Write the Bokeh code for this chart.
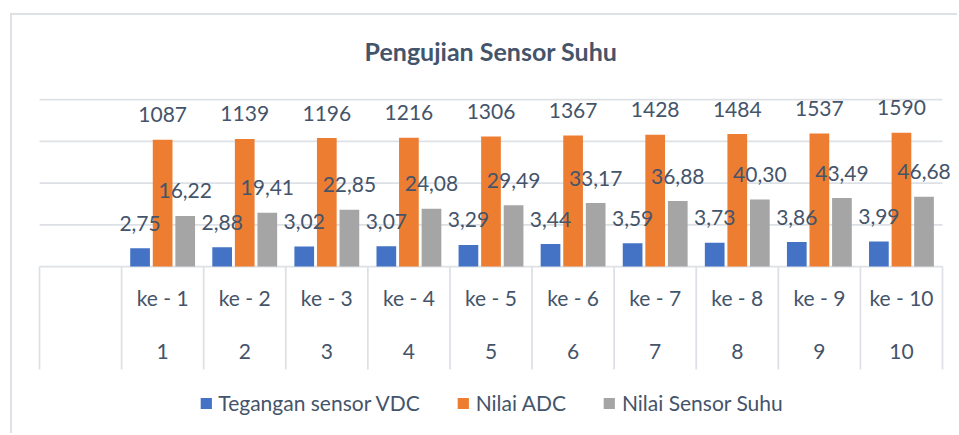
import numpy as np
from bokeh.plotting import figure
from bokeh.models import ColumnDataSource, FactorRange, Range1d
from bokeh.transform import dodge
from bokeh.core.properties import value
from bokeh.embed import file_html
from bokeh.resources import INLINE

# ---------------- data ----------------
title_text = "Pengujian Sensor Suhu"
trials = ["ke - 1", "ke - 2", "ke - 3", "ke - 4", "ke - 5",
          "ke - 6", "ke - 7", "ke - 8", "ke - 9", "ke - 10"]
numbers = ["1", "2", "3", "4", "5", "6", "7", "8", "9", "10"]
vdc = [2.75, 2.88, 3.02, 3.07, 3.29, 3.44, 3.59, 3.73, 3.86, 3.99]
adc = [1087, 1139, 1196, 1216, 1306, 1367, 1428, 1484, 1537, 1590]
suhu = [16.22, 19.41, 22.85, 24.08, 29.49, 33.17, 36.88, 40.30, 43.49, 46.68]
series_names = ["Tegangan sensor VDC", "Nilai ADC", "Nilai Sensor Suhu"]
grid_values = [1, 10, 100, 1000, 10000]

# ---------------- styling ----------------
colors = ["#4472C4", "#ED7D31", "#A5A5A5"]
text_color = "#44546A"
line_color = "#DDE1E6"
font = "Lato"
fs = "21px"

W, H = 947, 420
ppd = 41.75            # pixels per decade on the log axis
top_pad = 84           # pixels between canvas top and the 10^4 gridline
y_hi = 4 + top_pad / ppd
y_lo = y_hi - H / ppd

def y_at(px_from_top):
    return 10 ** (y_hi - px_from_top / ppd)

blank = " "
factors = [blank] + trials
col_px = 903 / len(factors)       # width of one category column in pixels
side_pad = 17                     # extra room either side of the category table

p = figure(width=W, height=H,
           x_range=FactorRange(factors=factors, range_padding=side_pad / col_px,
                               range_padding_units="absolute"),
           y_range=Range1d(10 ** y_lo, 10 ** y_hi),
           y_axis_type="log", x_axis_location=None, y_axis_location=None,
           output_backend="svg", toolbar_location=None,
           min_border_left=10, min_border_right=0,
           min_border_top=0, min_border_bottom=0)
p.margin = (13, 0, 0, 10)
p.styles = {"border-top": f"2px solid {line_color}", "border-left": f"2px solid {line_color}"}
p.outline_line_color = None
p.background_fill_color = "white"
p.border_fill_color = "white"
for g in list(p.grid):
    g.visible = False

# horizontal gridlines spanning the category table
grid_src = ColumnDataSource(dict(y=grid_values,
                                 first=[factors[0]] * len(grid_values),
                                 last=[factors[-1]] * len(grid_values)))
p.segment(x0=dodge("first", -0.5, range=p.x_range), x1=dodge("last", 0.5, range=p.x_range),
          y0="y", y1="y", source=grid_src, line_color=line_color, line_width=1.75)

# title (centred over the plot area)
p.text(x=[factors[len(factors) // 2]], y=[y_at(35.5)], text=[title_text],
       text_align="center", text_baseline="alphabetic",
       text_font=value(font), text_font_size="25px", text_font_style="bold",
       text_color=text_color)

def fmt(v):
    return f"{v:.2f}".replace(".", ",")

src = ColumnDataSource(dict(
    trial=trials, num=numbers, vdc=vdc, adc=adc, suhu=suhu,
    vdc_lbl=[fmt(v) for v in vdc],
    adc_lbl=[str(v) for v in adc],
    suhu_lbl=[fmt(v) for v in suhu],
))

offsets = [-0.275, 0.0, 0.275]
fields = ["vdc", "adc", "suhu"]
for f, off, c, name in zip(fields, offsets, colors, series_names):
    p.vbar(x=dodge("trial", off, range=p.x_range), top=f, bottom=1,
           width=0.24, fill_color=c, line_color=None, source=src,
           legend_label=name)

for f, off in zip(fields, offsets):
    p.text(x=dodge("trial", off, range=p.x_range), y=f, text=f + "_lbl",
           source=src, text_align="center", text_baseline="alphabetic",
           y_offset=-25, text_font=value(font), text_font_size=fs,
           text_color=text_color)

# category table below the axis
sep_bottom = 10 ** (-103 / ppd)
sep_src = ColumnDataSource(dict(f=factors))
p.segment(x0=dodge("f", -0.5, range=p.x_range), x1=dodge("f", -0.5, range=p.x_range),
          y0=1, y1=sep_bottom, source=sep_src, line_color=line_color, line_width=1.75)
last_src = ColumnDataSource(dict(f=[factors[-1]]))
p.segment(x0=dodge("f", 0.5, range=p.x_range), x1=dodge("f", 0.5, range=p.x_range),
          y0=1, y1=sep_bottom, source=last_src, line_color=line_color, line_width=1.75)

p.text(x="trial", y=10 ** (-31 / ppd), text="trial", source=src,
       text_align="center", text_baseline="middle",
       text_font=value(font), text_font_size=fs, text_color=text_color)
p.text(x="trial", y=10 ** (-85 / ppd), text="num", source=src,
       text_align="center", text_baseline="middle",
       text_font=value(font), text_font_size=fs, text_color=text_color)

lg = p.legend[0]
lg.location = "bottom_center"
lg.orientation = "horizontal"
lg.border_line_color = None
lg.background_fill_alpha = 0
lg.label_text_font = font
lg.label_text_font_size = fs
lg.label_text_color = text_color
lg.glyph_width = 14
lg.glyph_height = 14
lg.label_standoff = 6
lg.spacing = 36
lg.padding = 0
lg.margin = 20

open("out.html", "w").write(file_html(p, INLINE))
